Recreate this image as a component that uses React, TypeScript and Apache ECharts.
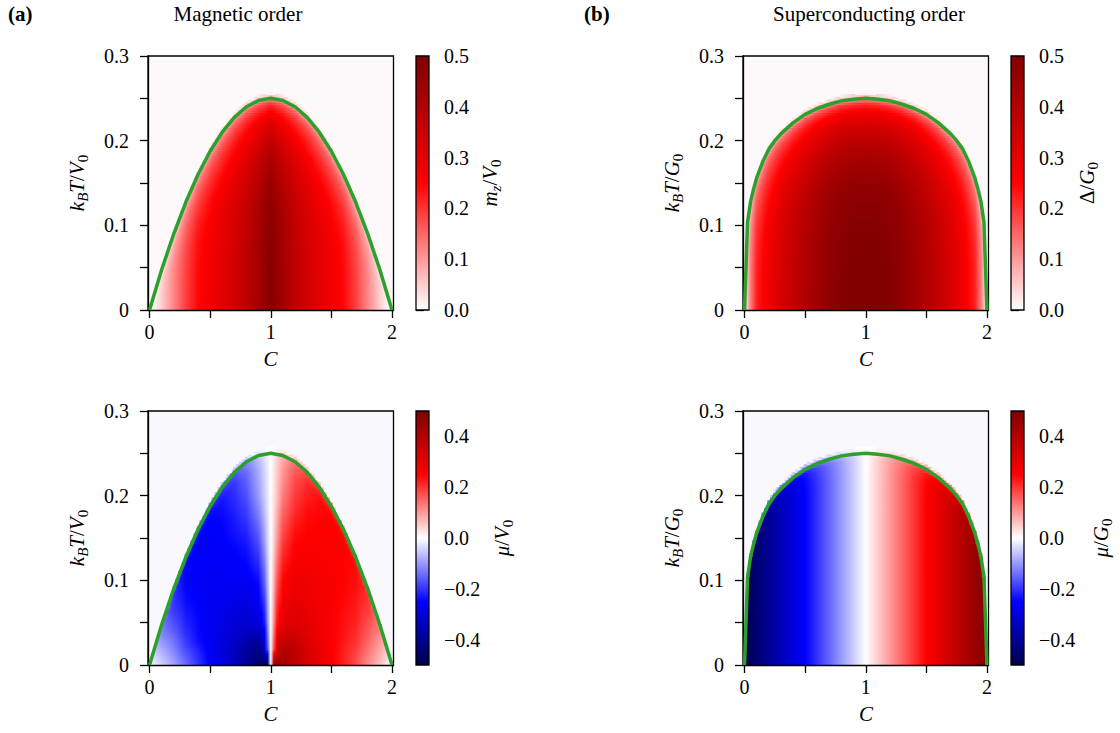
import React, { useEffect, useRef } from 'react';
import * as echarts from 'echarts';

const F = '"Liberation Serif", "DejaVu Serif", serif';

// ---------- Phase boundaries ----------
const tcMagC = [0, 0.1, 0.2, 0.3, 0.4, 0.5, 0.6, 0.7, 0.8, 0.9, 1.0, 1.1, 1.2, 1.3, 1.4, 1.5, 1.6, 1.7, 1.8, 1.9, 2.0];
const tcMag = [0, 0.0475, 0.09, 0.1275, 0.16, 0.1875, 0.21, 0.2275, 0.24, 0.2475, 0.25, 0.2475, 0.24, 0.2275, 0.21, 0.1875, 0.16, 0.1275, 0.09, 0.0475, 0];

const tcScC = [0, 0.025, 0.05, 0.075, 0.1, 0.15, 0.2, 0.25, 0.3, 0.4, 0.5, 0.6, 0.7, 0.8, 0.9, 1.0, 1.1, 1.2, 1.3, 1.4, 1.5, 1.6, 1.7, 1.75, 1.8, 1.85, 1.9, 1.925, 1.95, 1.975, 2.0];
const tcSc = [0, 0.104, 0.128, 0.143, 0.156, 0.175, 0.19, 0.2, 0.208, 0.221, 0.231, 0.238, 0.243, 0.247, 0.249, 0.25, 0.249, 0.247, 0.243, 0.238, 0.231, 0.221, 0.208, 0.2, 0.19, 0.175, 0.156, 0.143, 0.128, 0.104, 0];

// ---------- Colour-field readings ----------
// C positions at which the colours were read
const fieldC = [0, 0.05, 0.1, 0.2, 0.3, 0.4, 0.5, 0.6, 0.7, 0.8, 0.9, 0.95, 0.99, 1.01, 1.05, 1.1, 1.2, 1.3, 1.4, 1.5, 1.6, 1.7, 1.8, 1.9, 1.95, 2.0];
// fractions T/Tc at which the colours were read
const rTop = [0, 0.3, 0.5, 0.6, 0.7, 0.8, 0.88, 0.94, 0.98, 1.0, 1.03];

// (a) top: m_z/V0 at T = 0, and its fall-off towards Tc
const mzGround = [0, 0.015, 0.05, 0.12, 0.19, 0.245, 0.275, 0.305, 0.34, 0.38, 0.43, 0.46, 0.49, 0.49, 0.46, 0.43, 0.38, 0.34, 0.305, 0.275, 0.245, 0.19, 0.12, 0.05, 0.015, 0];
const mzDecay = [1, 0.99, 0.96, 0.92, 0.86, 0.76, 0.65, 0.53, 0.4, 0.25, 0];

// (b) top: Delta/G0 at T = 0, and its fall-off towards Tc
const gapGround = [0, 0.13, 0.22, 0.28, 0.33, 0.37, 0.405, 0.44, 0.47, 0.49, 0.5, 0.5, 0.5, 0.5, 0.5, 0.5, 0.49, 0.47, 0.44, 0.405, 0.37, 0.33, 0.28, 0.22, 0.13, 0];
const gapDecay = [1, 0.99, 0.96, 0.92, 0.86, 0.77, 0.66, 0.54, 0.4, 0.24, 0];

// (b) bottom: mu/G0 (nearly constant in T)
const muScGround = [-0.5, -0.475, -0.45, -0.4, -0.35, -0.3, -0.25, -0.2, -0.15, -0.1, -0.05, -0.025, -0.005, 0.005, 0.025, 0.05, 0.1, 0.15, 0.2, 0.25, 0.3, 0.35, 0.4, 0.45, 0.475, 0.5];
const muScDecay = [1, 1, 1, 1, 1, 1, 1, 0.98, 0.92, 0.75, 0];

// (a) bottom: mu/V0, rows at T/Tc = rMuMag, columns at fieldC
const rMuMag = [0, 0.08, 0.2, 0.4, 0.6, 0.8, 0.94, 1.0, 1.03];
const muMagR000 = [0, -0.015, -0.04, -0.09, -0.14, -0.2, -0.25, -0.29, -0.34, -0.4, -0.46, -0.48, -0.49, 0.48, 0.46, 0.43, 0.38, 0.33, 0.29, 0.26, 0.22, 0.18, 0.12, 0.06, 0.03, 0];
const muMagR008 = [0, -0.02, -0.05, -0.1, -0.16, -0.21, -0.26, -0.3, -0.34, -0.39, -0.42, -0.33, -0.08, 0.08, 0.33, 0.4, 0.38, 0.33, 0.29, 0.26, 0.22, 0.18, 0.12, 0.065, 0.03, 0];
const muMagR020 = [0, -0.03, -0.06, -0.12, -0.19, -0.24, -0.27, -0.29, -0.31, -0.32, -0.3, -0.23, -0.04, 0.04, 0.23, 0.3, 0.32, 0.3, 0.28, 0.26, 0.23, 0.2, 0.14, 0.075, 0.035, 0];
const muMagR040 = [0, -0.04, -0.08, -0.15, -0.22, -0.25, -0.27, -0.27, -0.27, -0.27, -0.24, -0.15, -0.02, 0.02, 0.16, 0.25, 0.28, 0.28, 0.27, 0.26, 0.24, 0.22, 0.16, 0.09, 0.045, 0];
const muMagR060 = [0, -0.05, -0.1, -0.18, -0.24, -0.26, -0.26, -0.26, -0.25, -0.23, -0.17, -0.09, -0.01, 0.01, 0.1, 0.19, 0.25, 0.26, 0.26, 0.26, 0.25, 0.23, 0.18, 0.1, 0.05, 0];
const muMagR080 = [0, -0.06, -0.12, -0.2, -0.25, -0.26, -0.26, -0.25, -0.22, -0.18, -0.1, -0.05, -0.01, 0.01, 0.06, 0.13, 0.2, 0.24, 0.25, 0.26, 0.25, 0.24, 0.2, 0.12, 0.06, 0];
const muMagR094 = [0, -0.06, -0.12, -0.2, -0.25, -0.25, -0.25, -0.23, -0.2, -0.15, -0.08, -0.04, -0.01, 0.01, 0.05, 0.1, 0.17, 0.21, 0.24, 0.25, 0.25, 0.24, 0.2, 0.12, 0.06, 0];
const muMagR100 = [0, -0.05, -0.1, -0.17, -0.21, -0.21, -0.21, -0.19, -0.17, -0.12, -0.06, -0.03, -0.005, 0.005, 0.04, 0.08, 0.14, 0.18, 0.2, 0.21, 0.21, 0.2, 0.17, 0.1, 0.05, 0];
const muMagR103 = [0, 0, 0, 0, 0, 0, 0, 0, 0, 0, 0, 0, 0, 0, 0, 0, 0, 0, 0, 0, 0, 0, 0, 0, 0, 0];

// tick labels
const xTicks = [0, 0.5, 1, 1.5, 2];
const xLabels = [0, 1, 2];
const muBarTicks = [-0.4, -0.2, 0, 0.2, 0.4];

// ---------- helpers ----------
const DC = 0.025;
const DT = 0.003;
const R_MAX = 1.03;

function seg(xs: number[], x: number): [number, number] {
  if (x <= xs[0]) return [0, 0];
  for (let i = 1; i < xs.length; i++) {
    if (x <= xs[i]) return [i - 1, (x - xs[i - 1]) / (xs[i] - xs[i - 1])];
  }
  return [xs.length - 2, 1];
}
function lerp1(xs: number[], ys: number[], x: number) {
  const [i, f] = seg(xs, x);
  return ys[i] + f * (ys[i + 1] - ys[i]);
}
function bilinear(xs: number[], ys: number[], rows: number[][], x: number, y: number) {
  const [i, fx] = seg(xs, x);
  const [j, fy] = seg(ys, y);
  const a = rows[j][i] + fx * (rows[j][i + 1] - rows[j][i]);
  const b = rows[j + 1][i] + fx * (rows[j + 1][i + 1] - rows[j + 1][i]);
  return a + fy * (b - a);
}

type Row = { t: number; cL: number; cR: number; vals: number[] };

// one horizontal strip per temperature row, holding the cell values along C
function buildRows(tcC: number[], tcV: number[], f: (c: number, r: number) => number): Row[] {
  const rows: Row[] = [];
  for (let j = 0; j < 100; j++) {
    const t = (j + 0.5) * DT;
    const cs: number[] = [];
    const vs: number[] = [];
    for (let i = 0; i <= 80; i++) {
      const c = i * DC;
      const tc = lerp1(tcC, tcV, c);
      if (tc <= 1e-6) continue;
      const r = t / tc;
      if (r > R_MAX) continue;
      cs.push(c);
      vs.push(f(c, r));
    }
    if (!cs.length) break;
    rows.push({ t, cL: cs[0], cR: cs[cs.length - 1], vals: vs });
  }
  return rows;
}

const SEISMIC: [number, number[]][] = [
  [-0.5, [0, 0, 77]],
  [-0.25, [0, 0, 255]],
  [0, [255, 255, 255]],
  [0.25, [255, 0, 0]],
  [0.5, [128, 0, 0]],
];
function seismic(v: number) {
  const x = Math.max(-0.5, Math.min(0.5, v));
  for (let i = 1; i < SEISMIC.length; i++) {
    if (x <= SEISMIC[i][0]) {
      const [x0, c0] = SEISMIC[i - 1];
      const [x1, c1] = SEISMIC[i];
      const f = (x - x0) / (x1 - x0);
      const c = c0.map((q, k) => Math.round(q + f * (c1[k] - q)));
      return `rgb(${c[0]},${c[1]},${c[2]})`;
    }
  }
  return 'rgb(128,0,0)';
}

const muMagRows = [muMagR000, muMagR008, muMagR020, muMagR040, muMagR060, muMagR080, muMagR094, muMagR100, muMagR103];

const rowsMz = buildRows(tcMagC, tcMag, (c, r) => lerp1(fieldC, mzGround, c) * lerp1(rTop, mzDecay, r));
const rowsGap = buildRows(tcScC, tcSc, (c, r) => lerp1(fieldC, gapGround, c) * lerp1(rTop, gapDecay, r));
const rowsMuMag = buildRows(tcMagC, tcMag, (c, r) => bilinear(fieldC, rMuMag, muMagRows, c, r));
const rowsMuSc = buildRows(tcScC, tcSc, (c, r) => lerp1(fieldC, muScGround, c) * lerp1(rTop, muScDecay, r));

const lineMag = tcMagC.map((c, i) => [c, tcMag[i]]);
const lineSc = tcScC.map((c, i) => [c, tcSc[i]]);

// ---------- layout ----------
const PW = 245.5;
const PH = 254;
const mainPos = [
  { left: 148, top: 56 },
  { left: 743, top: 56 },
  { left: 148, top: 411 },
  { left: 743, top: 411 },
];
const barPos = [
  { left: 416, top: 56 },
  { left: 1011, top: 56 },
  { left: 416, top: 411 },
  { left: 1011, top: 411 },
];
const tints = ['#fdf9fb', '#fdf9fb', '#f8f8fd', '#f8f8fd'];

const rich = {
  i: { fontFamily: F, fontSize: 21, fontStyle: 'italic', lineHeight: 26, verticalAlign: 'middle', fill: '#000' },
  n: { fontFamily: F, fontSize: 21, lineHeight: 26, verticalAlign: 'middle', fill: '#000' },
  si: { fontFamily: F, fontSize: 15, fontStyle: 'italic', lineHeight: 14, verticalAlign: 'bottom', fill: '#000' },
  sn: { fontFamily: F, fontSize: 15, lineHeight: 14, verticalAlign: 'bottom', fill: '#000' },
};

function mathText(x: number, y: number, text: string, rotate: boolean) {
  return {
    type: 'text',
    x,
    y,
    rotation: rotate ? Math.PI / 2 : 0,
    silent: true,
    style: { text, rich, align: 'center', verticalAlign: 'middle', fill: '#000' },
  };
}
function plainText(x: number, y: number, text: string, align: string, bold: boolean) {
  return {
    type: 'text',
    x,
    y,
    silent: true,
    style: {
      text,
      fontFamily: F,
      fontSize: 21,
      fontWeight: bold ? 'bold' : 'normal',
      fill: '#000',
      align,
      verticalAlign: 'middle',
    },
  };
}

const axisLineStyle = { color: '#000', width: 1.3 };

function buildOption() {
  const grid: any[] = [];
  const xAxis: any[] = [];
  const yAxis: any[] = [];
  const series: any[] = [];

  mainPos.forEach((p, i) => {
    grid.push({
      left: p.left, top: p.top, width: PW, height: PH,
      show: true, borderColor: '#000', borderWidth: 1.3, backgroundColor: tints[i],
      containLabel: false, outerBoundsMode: 'none',
    });
  });
  barPos.forEach((p) => {
    grid.push({
      left: p.left, top: p.top, width: 13, height: PH,
      show: false, containLabel: false, outerBoundsMode: 'none',
    });
  });

  for (let i = 0; i < 4; i++) {
    xAxis.push({
      gridIndex: i, type: 'value', min: -0.0125, max: 2.0125, position: 'bottom', z: 4,
      axisLine: { show: true, onZero: false, lineStyle: axisLineStyle },
      axisTick: { show: true, length: 8, lineStyle: axisLineStyle, customValues: xTicks },
      axisLabel: { customValues: xLabels, margin: 12, color: '#000', fontSize: 20, fontFamily: F, formatter: (v: number) => String(v) },
      splitLine: { show: false },
    });
    yAxis.push({
      gridIndex: i, type: 'value', min: 0, max: 0.3, interval: 0.05, position: 'left', z: 4,
      axisLine: { show: true, onZero: false, lineStyle: axisLineStyle },
      axisTick: { show: true, length: 8, lineStyle: axisLineStyle },
      axisLabel: {
        margin: 19, color: '#000', fontSize: 20, fontFamily: F,
        formatter: (v: number) => {
          const k = Math.round(v * 20);
          if (k % 2 !== 0) return '';
          return k === 0 ? '0' : (k / 20).toFixed(1);
        },
      },
      splitLine: { show: false },
    });
  }
  for (let k = 0; k < 4; k++) {
    const isMu = k >= 2;
    xAxis.push({ gridIndex: 4 + k, type: 'value', min: 0, max: 1, show: false });
    const y: any = {
      gridIndex: 4 + k, type: 'value', position: 'right',
      min: isMu ? -0.5 : 0, max: 0.5,
      axisLine: { show: false },
      axisTick: { show: true, length: 8, lineStyle: axisLineStyle },
      axisLabel: {
        margin: 15, color: '#000', fontSize: 20, fontFamily: F,
        formatter: (v: number) => (v < -1e-9 ? '\u2212' : '') + Math.abs(v).toFixed(1),
      },
      splitLine: { show: false },
    };
    if (isMu) {
      y.axisTick.customValues = muBarTicks;
      y.axisLabel.customValues = muBarTicks;
    } else {
      y.interval = 0.1;
    }
    yAxis.push(y);
  }

  const makeRowRender = (rows: Row[]) => (params: any, api: any) => {
    const row = rows[params.dataIndex];
    const cL = api.value(0);
    const t = api.value(1);
    const cR = api.value(2);
    const a = api.coord([cL - DC / 2, t + DT / 2]);
    const b = api.coord([cR + DC / 2, t - DT / 2]);
    const n = row.vals.length;
    const stops = row.vals.map((v, k) => ({ offset: (k + 0.5) / n, color: seismic(v) }));
    return {
      type: 'rect',
      shape: { x: a[0], y: a[1], width: b[0] - a[0], height: b[1] - a[1] + 1 },
      style: { fill: new echarts.graphic.LinearGradient(0, 0, 1, 0, stops) },
    };
  };

  const fields = [rowsMz, rowsGap, rowsMuMag, rowsMuSc];
  fields.forEach((rows, i) => {
    series.push({
      type: 'custom', xAxisIndex: i, yAxisIndex: i,
      data: rows.map((r) => [r.cL, r.t, r.cR]),
      renderItem: makeRowRender(rows),
      clip: true, z: 1, silent: true, progressive: 0, animation: false,
    });
  });
  const lines = [lineMag, lineSc, lineMag, lineSc];
  lines.forEach((d, i) => {
    series.push({
      type: 'line', xAxisIndex: i, yAxisIndex: i, data: d, symbol: 'none', showSymbol: false,
      lineStyle: { color: '#2ca02c', width: 3.5 }, z: 6, clip: false, silent: true, animation: false,
    });
  });

  const redStops = [
    { offset: 0, color: '#800000' },
    { offset: 0.5, color: '#ff0000' },
    { offset: 1, color: '#ffffff' },
  ];
  const bwrStops = [
    { offset: 0, color: '#800000' },
    { offset: 0.25, color: '#ff0000' },
    { offset: 0.5, color: '#ffffff' },
    { offset: 0.75, color: '#0000ff' },
    { offset: 1, color: '#00004d' },
  ];
  for (let k = 0; k < 4; k++) {
    const stops = k >= 2 ? bwrStops : redStops;
    series.push({
      type: 'custom', xAxisIndex: 4 + k, yAxisIndex: 4 + k, data: [[0.5, 0]], silent: true, animation: false,
      renderItem: (params: any) => {
        const cs = params.coordSys;
        return {
          type: 'rect',
          shape: { x: cs.x, y: cs.y, width: cs.width, height: cs.height },
          style: {
            fill: new echarts.graphic.LinearGradient(0, 0, 0, 1, stops),
            stroke: '#000',
            lineWidth: 1.3,
          },
        };
      },
    });
  }

  const graphic = [
    plainText(8, 14, '(a)', 'left', true),
    plainText(238, 14, 'Magnetic order', 'center', false),
    plainText(584, 14, '(b)', 'left', true),
    plainText(869, 14, 'Superconducting order', 'center', false),
    mathText(77, 183, '{i|k}{si|B}{i|T}{n|/}{i|V}{sn|0}', true),
    mathText(77, 538, '{i|k}{si|B}{i|T}{n|/}{i|V}{sn|0}', true),
    mathText(672, 183, '{i|k}{si|B}{i|T}{n|/}{i|G}{sn|0}', true),
    mathText(672, 538, '{i|k}{si|B}{i|T}{n|/}{i|G}{sn|0}', true),
    mathText(270.5, 359, '{i|C}', false),
    mathText(270.5, 714, '{i|C}', false),
    mathText(866, 359, '{i|C}', false),
    mathText(866, 714, '{i|C}', false),
    mathText(490, 183, '{i|m}{si|z}{n|/}{i|V}{sn|0}', true),
    mathText(1087, 183, '{n|\u0394/}{i|G}{sn|0}', true),
    mathText(502, 538, '{i|\u03bc}{n|/}{i|V}{sn|0}', true),
    mathText(1101, 538, '{i|\u03bc}{n|/}{i|G}{sn|0}', true),
  ];

  return {
    animation: false,
    backgroundColor: '#ffffff',
    grid,
    xAxis,
    yAxis,
    series,
    graphic,
  };
}

export default function App() {
  const ref = useRef<HTMLDivElement | null>(null);
  useEffect(() => {
    if (!ref.current) return;
    const chart = echarts.init(ref.current, null, { renderer: 'svg' });
    chart.setOption(buildOption() as any);
    return () => {
      chart.dispose();
    };
  }, []);
  return (
    <div
      ref={ref}
      style={{ position: 'absolute', left: 0, top: 0, width: 1120, height: 733, background: '#fff' }}
    />
  );
}
